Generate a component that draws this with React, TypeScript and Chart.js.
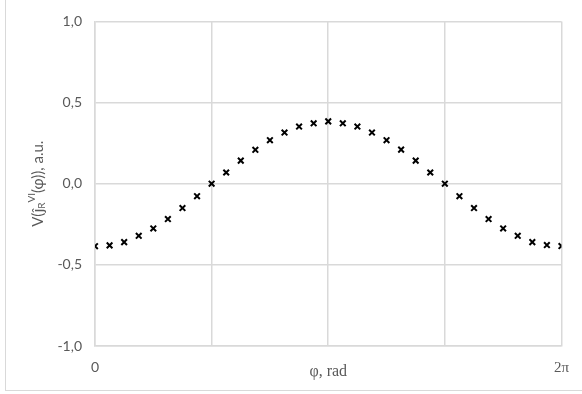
import React, { useEffect, useRef } from "react";
import { Chart, registerables } from "chart.js";

Chart.register(...registerables);

// φ in units of π (step π/16)
const phiOverPi = [
  0, 0.0625, 0.125, 0.1875, 0.25, 0.3125, 0.375, 0.4375, 0.5,
  0.5625, 0.625, 0.6875, 0.75, 0.8125, 0.875, 0.9375, 1,
  1.0625, 1.125, 1.1875, 1.25, 1.3125, 1.375, 1.4375, 1.5,
  1.5625, 1.625, 1.6875, 1.75, 1.8125, 1.875, 1.9375, 2,
];
const vValues = [
  -0.385, -0.38, -0.36, -0.321, -0.276, -0.218, -0.15, -0.077, 0,
  0.069, 0.142, 0.209, 0.268, 0.315, 0.352, 0.372, 0.384,
  0.372, 0.352, 0.315, 0.268, 0.21, 0.142, 0.069, 0,
  -0.077, -0.15, -0.218, -0.276, -0.321, -0.36, -0.378, -0.384,
];
const xTickLabels: Record<string, string> = { "0": "0", "2": "2π" };
const xTitle = "φ, rad";
const yTitleParts = [
  { t: "V(ĵ", kind: "n" },
  { t: "R", kind: "sub" },
  { t: "VI", kind: "sup" },
  { t: "(φ)), a.u.", kind: "n" },
];

const GRID = "#d9d9d9";
const TEXT = "#595959";

const titlesPlugin = {
  id: "titles",
  afterDraw(chart: any) {
    const ctx = chart.ctx;
    const area = chart.chartArea;
    ctx.save();
    // x title
    ctx.fillStyle = TEXT;
    ctx.font = '16px "Liberation Serif"';
    ctx.textAlign = "center";
    ctx.textBaseline = "middle";
    ctx.fillText(xTitle, (area.left + area.right) / 2, 372);
    ctx.restore();

    // y title (rotated)
    ctx.save();
    ctx.translate(38, (area.top + area.bottom) / 2);
    ctx.rotate(-Math.PI / 2);
    ctx.fillStyle = TEXT;
    ctx.textBaseline = "middle";
    ctx.textAlign = "left";
    const fontFor = (k: string) =>
      k === "n" ? '15px "Lato"' : '10px "Lato"';
    let total = 0;
    for (const p of yTitleParts) {
      ctx.font = fontFor(p.kind);
      total += ctx.measureText(p.t).width;
    }
    let x = -total / 2;
    for (const p of yTitleParts) {
      ctx.font = fontFor(p.kind);
      const dy = p.kind === "sub" ? 4 : p.kind === "sup" ? -6 : 0;
      ctx.fillText(p.t, x, dy);
      x += ctx.measureText(p.t).width;
    }
    ctx.restore();
  },
};

export default function App() {
  const ref = useRef<HTMLCanvasElement>(null);
  useEffect(() => {
    if (!ref.current) return;
    const chart = new Chart(ref.current, {
      type: "scatter",
      data: {
        datasets: [
          {
            data: phiOverPi.map((x, i) => ({ x, y: vValues[i] })),
            pointStyle: "crossRot",
            pointRadius: 4,
            pointBorderWidth: 2,
            borderColor: "#000",
            backgroundColor: "#000",
          },
        ],
      },
      options: {
        animation: false,
        responsive: false,
        devicePixelRatio: 1,
        layout: { padding: { left: 0, right: 16, top: 18, bottom: 0 } },
        plugins: { legend: { display: false }, tooltip: { enabled: false } },
        scales: {
          x: {
            type: "linear",
            min: 0,
            max: 2,
            afterFit: (s: any) => {
              s.height = 48;
            },
            ticks: {
              stepSize: 0.5,
              color: TEXT,
              padding: 13,
              maxRotation: 0,
              autoSkip: false,
              font: (c: any) =>
                c.tick && c.tick.value === 2
                  ? { family: '"Liberation Serif"', size: 15 }
                  : { family: "Lato", size: 14 },
              callback: (v: any) => xTickLabels[String(v)] ?? "",
            },
            grid: { color: GRID, lineWidth: 1.5, drawTicks: false },
            border: { color: GRID, width: 1.5 },
          },
          y: {
            min: -1,
            max: 1,
            afterFit: (s: any) => {
              s.width = 95;
            },
            ticks: {
              stepSize: 0.5,
              color: TEXT,
              padding: 13,
              font: { family: "Lato", size: 14 },
              callback: (v: any) => Number(v).toFixed(1).replace(".", ","),
            },
            grid: { color: GRID, lineWidth: 1.5, drawTicks: false },
            border: { color: GRID, width: 1.5 },
          },
        },
      },
      plugins: [titlesPlugin],
    });
    return () => chart.destroy();
  }, []);
  return (
    <div
      style={{
        position: "fixed",
        left: 0,
        top: 0,
        width: 582,
        height: 394,
        background: "#fff",
      }}
    >
      <div
        style={{
          position: "absolute",
          left: 5,
          top: -2,
          width: 600,
          height: 393,
          borderLeft: `1px solid ${GRID}`,
          borderBottom: `1px solid ${GRID}`,
          boxSizing: "border-box",
        }}
      />
      <canvas
        ref={ref}
        width={582}
        height={394}
        style={{ position: "absolute", left: 0, top: 0 }}
      />
    </div>
  );
}
